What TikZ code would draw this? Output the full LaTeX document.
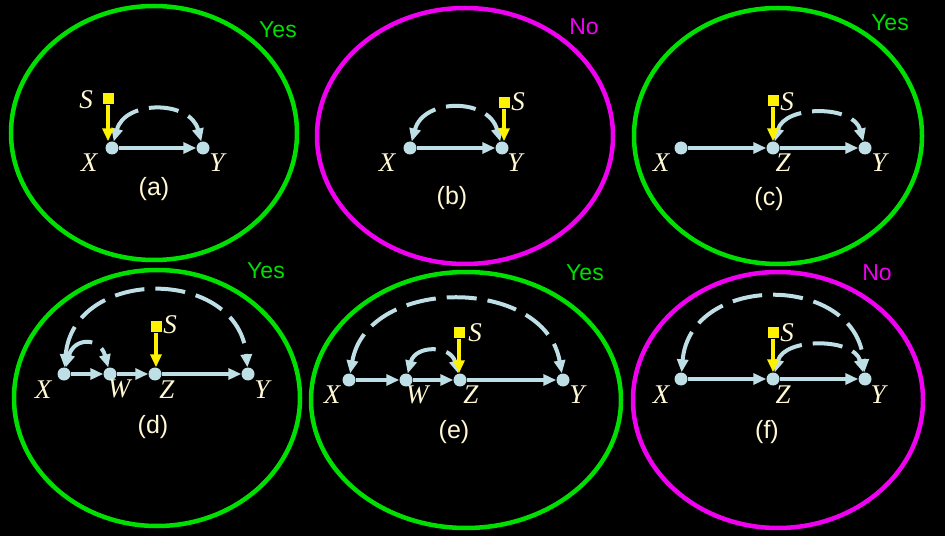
\documentclass[tikz,border=0pt]{standalone}
\usepackage{fontspec}
\setmainfont{Liberation Sans}
\newfontfamily\varfont{Liberation Serif}
\usetikzlibrary{arrows.meta}
\definecolor{ltblue}{HTML}{BFDFE6}
\definecolor{yel}{HTML}{FFF200}
\definecolor{grn}{HTML}{00E000}
\definecolor{mag}{HTML}{F000F0}
\definecolor{cream}{HTML}{FFF8D2}

\begin{document}
\begin{tikzpicture}[
  x=1pt, y=1pt,
  >={Triangle[length=13pt, width=11pt]},
  every node/.style={text=cream, inner sep=0pt},
  vtx/.style={circle, fill=ltblue, minimum size=13pt},
  sq/.style={rectangle, fill=yel, minimum size=11pt},
  var/.style={font=\fontsize{27}{27}\selectfont\varfont\itshape},
  panel/.style={font=\fontsize{25}{25}\selectfont},
  verdict/.style={font=\fontsize{23}{23}\selectfont},
  ring/.style={line width=4.5pt},
  edge/.style={ltblue, line width=4pt, ->},
  sel/.style={yel, line width=4pt, ->},
  biarc/.style={ltblue, line width=4pt, dash pattern=on 30pt off 11pt, <->},
]

% Background
\fill[black] (0,0) rectangle (945,536);
\useasboundingbox (0,0) rectangle (945,536);

% Rings
\draw[ring, grn] (154,403) ellipse [x radius=143, y radius=127];
\draw[ring, mag] (465,400) ellipse [x radius=148, y radius=128];
\draw[ring, grn] (778,400) ellipse [x radius=144, y radius=128];
\draw[ring, grn] (157,138) ellipse [x radius=143, y radius=128];
\draw[ring, grn] (466,136) ellipse [x radius=155, y radius=128];
\draw[ring, mag] (778,136) ellipse [x radius=145, y radius=128];

% Verdicts
\node[verdict, text=grn] (va) at (278,506) {Yes};
\node[verdict, text=mag] (vb) at (584,509) {No};
\node[verdict, text=grn] (vc) at (890,513) {Yes};
\node[verdict, text=grn] (vd) at (266,265) {Yes};
\node[verdict, text=grn] (ve) at (585,263) {Yes};
\node[verdict, text=mag] (vf) at (877,263) {No};

% Panel (a)
\node[vtx] (xa) at (112,388) {};
\node[vtx] (ya) at (203,388) {};
\node[sq] (sa) at (108,437) {};
\node[var] (lxa) at (89,373) {X};
\node[var] (lya) at (217,373) {Y};
\node[var] (lsa) at (86,436) {S};
\node[panel] (ca) at (154,347) {(a)};
\draw[edge] (xa) -- (ya);
\draw[biarc] (xa) to[out=75, in=105, looseness=1.26] (ya);
\draw[sel] (sa) -- (sa |- xa.north);

% Panel (b)
\node[vtx] (xb) at (410,388) {};
\node[vtx] (yb) at (502,388) {};
\node[sq] (sb) at (504,433) {};
\node[var] (lxb) at (387,373) {X};
\node[var] (lyb) at (515,373) {Y};
\node[var] (lsb) at (518,434) {S};
\node[panel] (cb) at (452,338) {(b)};
\draw[edge] (xb) -- (yb);
\draw[biarc] (xb) to[out=75, in=105, looseness=1.31] (yb);
\draw[sel] (sb) -- (sb |- yb.north);

% Panel (c)
\node[vtx] (xc) at (681,388) {};
\node[vtx] (zc) at (773,388) {};
\node[vtx] (yc) at (865,388) {};
\node[sq] (sc) at (773,435) {};
\node[var] (lxc) at (661,373) {X};
\node[var] (lzc) at (783,373) {Z};
\node[var] (lyc) at (879,373) {Y};
\node[var] (lsc) at (787,434) {S};
\node[panel] (cc) at (769,337) {(c)};
\draw[edge] (xc) -- (zc);
\draw[edge] (zc) -- (yc);
\draw[biarc] (zc) to[out=75, in=105, looseness=1.1] (yc);
\draw[sel] (sc) -- (sc |- zc.north);

% Panel (d)
\node[vtx] (xd) at (64,162) {};
\node[vtx] (wd) at (110,162) {};
\node[vtx] (zd) at (155,162) {};
\node[vtx] (yd) at (248,162) {};
\node[sq] (sd) at (156,209) {};
\node[var] (lxd) at (43,146) {X};
\node[var] (lwd) at (119,147) {W};
\node[var] (lzd) at (167,146) {Z};
\node[var] (lyd) at (262,146) {Y};
\node[var] (lsd) at (170,211) {S};
\node[panel] (cd) at (153,109) {(d)};
\draw[edge] (xd) -- (wd);
\draw[edge] (wd) -- (zd);
\draw[edge] (zd) -- (yd);
\draw[biarc] (xd) to[out=85, in=95, looseness=1.42] (yd);
\draw[biarc] (xd) to[out=75, in=105, looseness=1.9] (wd);
\draw[sel] (sd) -- (sd |- zd.north);

% Panel (e)
\node[vtx] (xe) at (349,156) {};
\node[vtx] (we) at (406,156) {};
\node[vtx] (ze) at (460,156) {};
\node[vtx] (ye) at (563,156) {};
\node[sq] (se) at (459,203) {};
\node[var] (lxe) at (332,141) {X};
\node[var] (lwe) at (417,141) {W};
\node[var] (lze) at (471,141) {Z};
\node[var] (lye) at (577,141) {Y};
\node[var] (lse) at (475,203) {S};
\node[panel] (ce) at (454,104) {(e)};
\draw[edge] (xe) -- (we);
\draw[edge] (we) -- (ze);
\draw[edge] (ze) -- (ye);
\draw[biarc] (xe) to[out=80, in=100, looseness=1.2] (ye);
\draw[biarc] (we) to[out=75, in=105, looseness=1.5] (ze);
\draw[sel] (se) -- (se |- ze.north);

% Panel (f)
\node[vtx] (xf) at (681,157) {};
\node[vtx] (zf) at (773,157) {};
\node[vtx] (yf) at (865,157) {};
\node[sq] (sf) at (773,203) {};
\node[var] (lxf) at (661,141) {X};
\node[var] (lzf) at (783,141) {Z};
\node[var] (lyf) at (878,141) {Y};
\node[var] (lsf) at (787,203) {S};
\node[panel] (cf) at (767,104) {(f)};
\draw[edge] (xf) -- (zf);
\draw[edge] (zf) -- (yf);
\draw[biarc] (xf) to[out=85, in=95, looseness=1.4] (yf);
\draw[biarc] (zf) to[out=75, in=105, looseness=1.05] (yf);
\draw[sel] (sf) -- (sf |- zf.north);

\end{tikzpicture}
\end{document}
